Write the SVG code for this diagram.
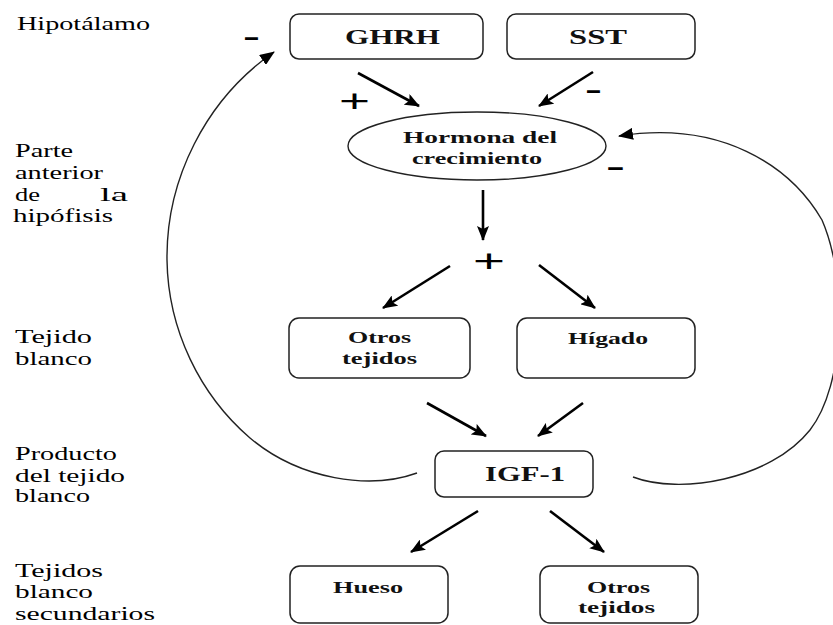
<svg xmlns="http://www.w3.org/2000/svg" width="833" height="625" viewBox="0 0 833 625">
<style>
.lbl{font-family:"Liberation Serif",serif;font-size:18px;fill:#000}
.bt{font-family:"Liberation Serif",serif;font-size:20px;font-weight:bold;fill:#111}
.st{font-family:"Liberation Serif",serif;font-size:16px;font-weight:bold;fill:#111}
.sign{font-family:"Liberation Sans",sans-serif;font-size:32px;fill:#000}
.minus{font-family:"Liberation Sans",sans-serif;font-size:24px;font-weight:bold;fill:#000}
.box{fill:#fff;stroke:#222;stroke-width:1.5}
.arr{stroke:#000;stroke-width:2.6;fill:none;marker-end:url(#ah)}
.loop{stroke:#222;stroke-width:1.4;fill:none;marker-end:url(#ah2)}
</style>
<defs>
<marker id="ah" markerUnits="userSpaceOnUse" markerWidth="16" markerHeight="12" refX="14" refY="6" orient="auto">
<path d="M0,0 L15,6 L0,12 L3,6 z" fill="#000"/>
</marker>
<marker id="ah2" markerUnits="userSpaceOnUse" markerWidth="16" markerHeight="12" refX="14" refY="6" orient="auto">
<path d="M0,0 L15,6 L0,12 z" fill="#000"/>
</marker>
</defs>
<rect width="833" height="625" fill="#fff"/>

<g id="labels">
<text class="lbl" x="17" y="30" textLength="133" lengthAdjust="spacingAndGlyphs">Hipotálamo</text>
<text class="lbl" x="15" y="157" textLength="58" lengthAdjust="spacingAndGlyphs">Parte</text>
<text class="lbl" x="15" y="179" textLength="88" lengthAdjust="spacingAndGlyphs">anterior</text>
<text class="lbl" x="15" y="201" textLength="25" lengthAdjust="spacingAndGlyphs">de</text>
<text class="lbl" x="100" y="201" textLength="28" lengthAdjust="spacingAndGlyphs">la</text>
<text class="lbl" x="13" y="222" textLength="100" lengthAdjust="spacingAndGlyphs">hipófisis</text>
<text class="lbl" x="15" y="343" textLength="77" lengthAdjust="spacingAndGlyphs">Tejido</text>
<text class="lbl" x="15" y="365" textLength="77" lengthAdjust="spacingAndGlyphs">blanco</text>
<text class="lbl" x="15" y="460" textLength="102" lengthAdjust="spacingAndGlyphs">Producto</text>
<text class="lbl" x="15" y="482" textLength="110" lengthAdjust="spacingAndGlyphs">del tejido</text>
<text class="lbl" x="15" y="502" textLength="75" lengthAdjust="spacingAndGlyphs">blanco</text>
<text class="lbl" x="15" y="577" textLength="88" lengthAdjust="spacingAndGlyphs">Tejidos</text>
<text class="lbl" x="15" y="598" textLength="78" lengthAdjust="spacingAndGlyphs">blanco</text>
<text class="lbl" x="15" y="620" textLength="140" lengthAdjust="spacingAndGlyphs">secundarios</text>
</g>

<g id="connectors">
<line class="arr" x1="358" y1="73" x2="419" y2="106"/>
<line class="arr" x1="593" y1="72" x2="539" y2="106"/>
<line class="arr" x1="483" y1="190" x2="483" y2="240"/>
<line class="arr" x1="450" y1="266" x2="383" y2="308"/>
<line class="arr" x1="539" y1="265" x2="595" y2="308"/>
<line class="arr" x1="427" y1="403" x2="486" y2="436"/>
<line class="arr" x1="583" y1="403" x2="538" y2="436"/>
<line class="arr" x1="478" y1="511" x2="411" y2="552"/>
<line class="arr" x1="550" y1="511" x2="604" y2="552"/>
<path class="loop" d="M 417 473 C 370 490, 300 480, 250 438 C 200 395, 168 330, 167 260 C 166 180, 205 100, 274 52"/>
<path class="loop" d="M 633 477 C 680 495, 770 480, 810 430 C 845 385, 848 280, 822 220 C 790 165, 720 120, 619 136"/>
</g>

<g id="signs">
<text class="minus" x="243" y="45" textLength="17" lengthAdjust="spacingAndGlyphs">-</text>
<text class="sign" x="339" y="112" textLength="31" lengthAdjust="spacingAndGlyphs">+</text>
<text class="minus" x="585" y="98" textLength="17" lengthAdjust="spacingAndGlyphs">-</text>
<text class="minus" x="606" y="175" textLength="19" lengthAdjust="spacingAndGlyphs">-</text>
<text class="sign" x="473" y="272" textLength="32" lengthAdjust="spacingAndGlyphs">+</text>
</g>

<g id="ghrh">
<rect class="box" x="290" y="14" width="193" height="45" rx="9"/>
<text class="bt" x="345" y="44" textLength="95" lengthAdjust="spacingAndGlyphs">GHRH</text>
</g>
<g id="sst">
<rect class="box" x="507" y="14" width="188" height="45" rx="9"/>
<text class="bt" x="569" y="44" textLength="58" lengthAdjust="spacingAndGlyphs">SST</text>
</g>
<g id="hormona">
<ellipse cx="477" cy="146" rx="129" ry="34" fill="#fff" stroke="#222" stroke-width="1.4"/>
<text class="st" x="403" y="143" textLength="154" lengthAdjust="spacingAndGlyphs">Hormona del</text>
<text class="st" x="412" y="164" textLength="130" lengthAdjust="spacingAndGlyphs">crecimiento</text>
</g>
<g id="otros1">
<rect class="box" x="289" y="318" width="181" height="60" rx="10"/>
<text class="st" x="348" y="343" textLength="63" lengthAdjust="spacingAndGlyphs">Otros</text>
<text class="st" x="342" y="364" textLength="75" lengthAdjust="spacingAndGlyphs">tejidos</text>
</g>
<g id="higado">
<rect class="box" x="517" y="318" width="178" height="60" rx="10"/>
<text class="st" x="568" y="344" textLength="80" lengthAdjust="spacingAndGlyphs">Hígado</text>
</g>
<g id="igf1">
<rect class="box" x="435" y="451" width="158" height="46" rx="9"/>
<text class="bt" x="485" y="481" textLength="80" lengthAdjust="spacingAndGlyphs">IGF-1</text>
</g>
<g id="hueso">
<rect class="box" x="290" y="566" width="158" height="57" rx="10"/>
<text class="st" x="333" y="593" textLength="70" lengthAdjust="spacingAndGlyphs">Hueso</text>
</g>
<g id="otros2">
<rect class="box" x="540" y="566" width="158" height="57" rx="10"/>
<text class="st" x="587" y="593" textLength="63" lengthAdjust="spacingAndGlyphs">Otros</text>
<text class="st" x="578" y="613" textLength="77" lengthAdjust="spacingAndGlyphs">tejidos</text>
</g>
</svg>
